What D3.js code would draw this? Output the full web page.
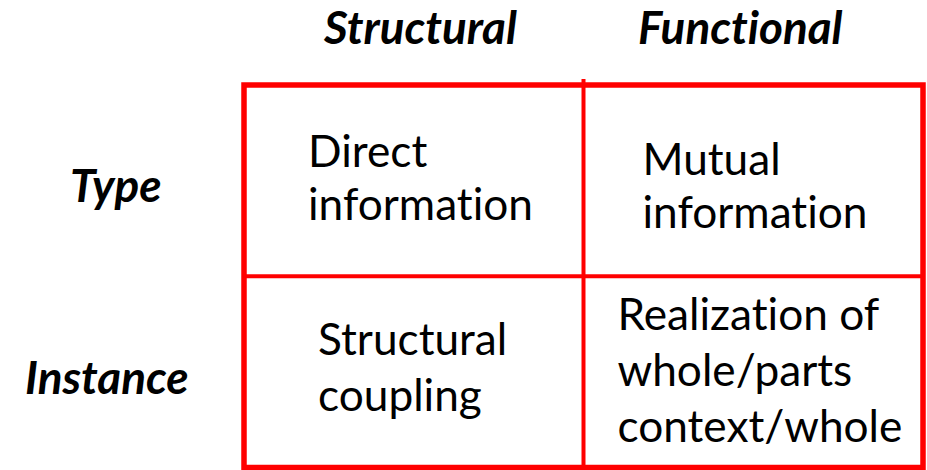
<!DOCTYPE html>
<html>
<head>
<meta charset="utf-8">
<script src="https://cdn.jsdelivr.net/npm/d3@7"></script>
<style>
  html, body { margin: 0; padding: 0; background: #fff; }
  svg { display: block; }
  svg text { font-variant-ligatures: none; font-feature-settings: "liga" 0, "clig" 0, "dlig" 0; }
</style>
</head>
<body>
<svg id="chart" width="927" height="470"></svg>
<script>
// ---- data ----
const columns = ["Structural", "Functional"];
const rows = ["Type", "Instance"];
const cellText = [
  { row: "Type", col: "Structural", lines: ["Direct", "information"] },
  { row: "Type", col: "Functional", lines: ["Mutual", "information"] },
  { row: "Instance", col: "Structural", lines: ["Structural", "coupling"] },
  { row: "Instance", col: "Functional", lines: ["Realization of", "whole/parts", "context/whole"] }
];

// ---- layout (styles/positions kept separate from data) ----
const W = 927, H = 470;
const grid = { left: 244, right: 923, top: 85, bottom: 467.5 };
const red = "#ff0000";
const bodyFont = "Lato, 'Open Sans', sans-serif";
// per-cell text offsets from cell's top-left (x offset, first baseline offset)
const cellOffsets = {
  "Type|Structural": { dx: 64, dy: 82 },
  "Type|Functional": { dx: 59, dy: 90 },
  "Instance|Structural": { dx: 74, dy: 79 },
  "Instance|Functional": { dx: 34, dy: 54 }
};
const lineGap = { "Type": 53, "Instance": 56 };

const svg = d3.select("#chart");

const x = d3.scaleBand().domain(columns).range([grid.left, grid.right]);
const y = d3.scaleBand().domain(rows).range([grid.top, grid.bottom]);

// fit font size so a reference string has a target width
function fitSize(text, target, weight, style) {
  const t = svg.append("text").attr("font-family", bodyFont)
    .attr("font-size", 100).attr("font-weight", weight).attr("font-style", style).text(text);
  const w = t.node().getComputedTextLength();
  t.remove();
  return 100 * target / w;
}
const bodySize = fitSize("information", 225, "normal", "normal");
const headSize = fitSize("Structural", 193, "bold", "italic");

// grid lines
const g = svg.append("g");
g.append("line")
  .attr("x1", x("Functional")).attr("x2", x("Functional"))
  .attr("y1", grid.top - 6).attr("y2", H)
  .attr("stroke", red).attr("stroke-width", 4);
g.append("line")
  .attr("x1", grid.left).attr("x2", grid.right)
  .attr("y1", y("Instance")).attr("y2", y("Instance"))
  .attr("stroke", red).attr("stroke-width", 4);
g.append("rect")
  .attr("x", grid.left).attr("y", grid.top)
  .attr("width", grid.right - grid.left).attr("height", grid.bottom - grid.top)
  .attr("fill", "none").attr("stroke", red).attr("stroke-width", 5.5);

// column headers
const headX = { "Structural": 324, "Functional": 638 };
svg.selectAll("text.col").data(columns).join("text")
  .attr("class", "col")
  .attr("x", d => headX[d]).attr("y", 44)
  .attr("font-family", bodyFont).attr("font-size", headSize)
  .attr("font-weight", "bold").attr("font-style", "italic")
  .attr("fill", "#000").text(d => d);

// row headers
const rowX = { "Type": 70, "Instance": 25 };
const rowBase = { "Type": 117, "Instance": 118 };
svg.selectAll("text.row").data(rows).join("text")
  .attr("class", "row")
  .attr("x", d => rowX[d]).attr("y", d => y(d) + rowBase[d])
  .attr("font-family", bodyFont).attr("font-size", headSize)
  .attr("font-weight", "bold").attr("font-style", "italic")
  .attr("fill", "#000").text(d => d);

// cell texts
svg.selectAll("text.cell").data(cellText).join("text")
  .attr("class", "cell")
  .attr("font-family", bodyFont).attr("font-size", bodySize).attr("fill", "#000")
  .each(function(d) {
    const off = cellOffsets[d.row + "|" + d.col];
    const t = d3.select(this);
    d.lines.forEach((ln, i) => {
      t.append("tspan")
        .attr("x", x(d.col) + off.dx)
        .attr("y", y(d.row) + off.dy + i * lineGap[d.row])
        .text(ln);
    });
  });
</script>
</body>
</html>
